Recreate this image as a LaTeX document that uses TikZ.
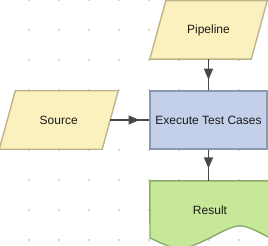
\documentclass[tikz,border=0pt]{standalone}
\usepackage{fontspec}
\setmainfont{Liberation Sans}
\usetikzlibrary{arrows.meta,decorations.markings,backgrounds}
\definecolor{yfill}{RGB}{251,241,190}
\definecolor{ydraw}{RGB}{190,180,140}
\definecolor{bfill}{RGB}{196,208,234}
\definecolor{bdraw}{RGB}{140,152,172}
\definecolor{gfill}{RGB}{198,232,152}
\definecolor{gdraw}{RGB}{140,170,110}
\definecolor{conncol}{RGB}{72,72,72}
\definecolor{dotcol}{RGB}{215,215,215}
\tikzset{
  lbl/.style={draw=none,inner sep=0pt,font=\fontsize{12}{14}\selectfont,text=black!90},
  para/.style={lbl,minimum height=58pt},
  shapeline/.style={line width=1.4pt,line join=miter},
  conn/.style={draw=conncol,line width=1.3pt},
  tipat/.style={postaction={decorate},decoration={markings,
     mark=at position #1 with {\arrow{Triangle[length=11pt,width=9pt]}}}},
}
\begin{document}
\begin{tikzpicture}[x=1pt,y=-1pt]
\useasboundingbox (0,0) rectangle (268,246);
% nodes
\node[para,minimum width=101pt] (pipe) at (208.5,30) {Pipeline};
\node[para,minimum width=102.5pt] (src) at (58.75,120) {Source};
\node[lbl,draw=bdraw,fill=bfill,line width=1.4pt,minimum width=117pt,minimum height=58pt] (exec) at (208.5,120) {};
\node[lbl] (execT) at (exec.center) {Execute Test Cases};
\node[lbl,minimum width=120pt,minimum height=59pt] (res) at (210,210.5) {Result};
% shapes behind
\begin{scope}[on background layer]
  \fill[white] (0,0) rectangle (268,246);
  \foreach \i in {-1,29,59,89,119,149,179,209,239}{
    \foreach \j in {0,30,60,90,120,150,180,210,240}{
      \fill[dotcol] (\i-1.3,\j-1.3) rectangle (\i+1.3,\j+1.3);
    }
  }
  \draw[shapeline,draw=ydraw,fill=yfill]
    ([xshift=8pt]pipe.north west) -- ([xshift=8pt]pipe.north east)
    -- ([xshift=-8pt]pipe.south east) -- ([xshift=-8pt]pipe.south west) -- cycle;
  \draw[shapeline,draw=ydraw,fill=yfill]
    ([xshift=8pt]src.north west) -- ([xshift=8pt]src.north east)
    -- ([xshift=-8pt]src.south east) -- ([xshift=-8pt]src.south west) -- cycle;
  \draw[shapeline,draw=gdraw,fill=gfill]
    (150,238) -- (res.north west) -- (res.north east) -- (270,238)
    .. controls (240,222) .. (210,238)
    .. controls (180,252) .. (150,238) -- cycle;
\end{scope}
% connectors
\draw[conn,tipat=0.66] (pipe.south) -- (exec.north);
\draw[conn,tipat=0.75] (src.east) -- (exec.west);
\draw[conn,tipat=0.6] (exec.south) -- (res.north -| exec.south);
\end{tikzpicture}
\end{document}
